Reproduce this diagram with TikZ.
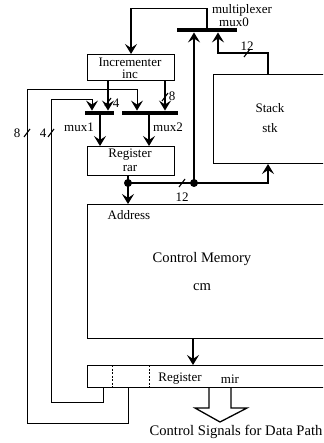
\documentclass[tikz,border=0pt]{standalone}
\usepackage{fontspec}
\setmainfont{Liberation Serif}
\usetikzlibrary{arrows.meta}
\begin{document}
\begin{tikzpicture}[x=1pt,y=-1pt,
 box/.style={draw,line width=1pt,inner sep=0,anchor=north west},
 bar/.style={fill=black,inner sep=0,minimum height=4.5pt},
 wire/.style={line width=1.3pt},
 thinwire/.style={line width=0.9pt},
 arr/.style={wire,-{Stealth[length=10pt,width=12pt,inset=4pt]}},
 thinarr/.style={thinwire,-{Stealth[length=10pt,width=12pt,inset=4pt]}},
 lbl/.style={font=\fontsize{13}{14}\selectfont,inner sep=0},
 big/.style={font=\fontsize{14.6}{16}\selectfont,inner sep=0},
 dot/.style={circle,fill=black,inner sep=0,minimum size=8pt},
 slash/.style={line width=1.1pt}]
\clip (0,0) rectangle (323,443);
% boxes
\node[box,minimum width=87pt,minimum height=26pt] (inc) at (87,54) {};
\node[box,minimum width=87pt,minimum height=29pt] (rar) at (87,146) {};
\node[box,minimum width=130pt,minimum height=89pt] (stk) at (213,74) {};
\node[box,minimum width=260pt,minimum height=134pt] (cm) at (87,204) {};
\node[box,minimum width=260pt,minimum height=22pt] (mir) at (87,365) {};
% bars
\node[bar,minimum width=60pt] (mux0) at (207,30) {};
\node[bar,minimum width=29pt] (mux1) at (99.5,113) {};
\node[bar,minimum width=56pt] (mux2) at (150,113) {};
% texts
\node[lbl] (t1) at (130,62) {Incrementer};
\node[lbl] (t2) at (130,74) {inc};
\node[lbl] (t3) at (270,108) {Stack};
\node[lbl] (t4) at (270,128) {stk};
\node[lbl] (t5) at (130,155) {Register};
\node[lbl] (t6) at (130,169) {rar};
\node[lbl] (t7) at (129,215) {Address};
\node[big] (t8) at (202,259) {Control Memory};
\node[big] (t9) at (202,287) {cm};
\node[lbl] (t10) at (180,379) {Register};
\node[lbl] (t11) at (230,379) {mir};
\node[big] (t12) at (236,432) {Control Signals for Data Path};
\node[lbl] (t13) at (242,10) {multiplexer};
\node[lbl] (t14) at (234,22) {mux0};
\node[lbl] (t15) at (79,127) {mux1};
\node[lbl] (t16) at (168,127) {mux2};
\node[lbl] (n1) at (247,46) {12};
\node[lbl] (n2) at (182,197) {12};
\node[lbl] (n3) at (116,103) {4};
\node[lbl] (n4) at (172,96) {8};
\node[lbl] (n5) at (17,133) {8};
\node[lbl] (n6) at (43,133) {4};
% coordinates
\coordinate (i1) at (108,0);
\coordinate (i2) at (165,0);
\coordinate (p1) at (92,0);
\coordinate (p2) at (137,0);
\coordinate (o1) at (100,0);
\coordinate (o2) at (149,0);
\coordinate (q4) at (103,0);
\coordinate (q8) at (128,0);
\coordinate (s1) at (268,0);
\coordinate (m2) at (218,0);
\coordinate (c1) at (193,0);
\coordinate (d1) at (112,0);
\coordinate (d2) at (149,0);
\coordinate (j1) at (128,183);
\coordinate (j2) at (194,183);
% connectors
\draw[arr] (mux0.north) -- ++(0,-19) -| (inc.north);
\draw[arr] (inc.south -| i1) -- (mux1.north -| i1);
\draw[arr] (inc.south -| i2) -- (mux2.north -| i2);
\draw[thinarr] (mir.south -| q4) |- (51,402) |- (92,99) -- (mux1.north -| p1);
\draw[thinarr] (mir.south -| q8) |- (27,423) |- (137,89) -- (mux2.north -| p2);
\draw[arr] (mux1.south -| o1) -- (rar.north -| o1);
\draw[arr] (mux2.south -| o2) -- (rar.north -| o2);
\draw[wire] (rar.south -| j1) -- (j1);
\draw[arr] (j1) -- (cm.north -| j1);
\draw[arr] (j1) -- (j2) -| (stk.south -| s1);
\draw[arr] (j2) -- (mux0.south -| j2);
\draw[arr] (stk.north -| s1) |- (218,53) -- (mux0.south -| m2);
\draw[arr] (cm.south -| c1) -- (mir.north -| c1);
\node[dot] at (j1) {};
\node[dot] at (j2) {};
% dashed dividers
\draw[line width=0.9pt,dash pattern=on 2pt off 1.5pt] (mir.north -| d1) -- (mir.south -| d1);
\draw[line width=0.9pt,dash pattern=on 2pt off 1.5pt] (mir.north -| d2) -- (mir.south -| d2);
% hollow arrow
\draw[wire,line join=miter] (209,387) -- (209,408) -- (195,408) -- (220,422) -- (247,408) -- (231,408) -- (231,387);
% bus slashes
\draw[slash] (244,57) -- (250,49);
\draw[slash] (179,187) -- (185,179);
\draw[slash] (105,106) -- (111,98);
\draw[slash] (162,101) -- (168,93);
\draw[slash] (24,137) -- (30,129);
\draw[slash] (48,137) -- (54,129);
\end{tikzpicture}
\end{document}
